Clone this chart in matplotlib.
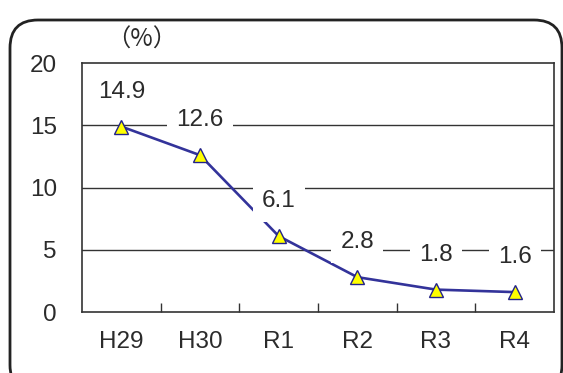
import matplotlib
matplotlib.use("Agg")
from matplotlib import pyplot as plt
from matplotlib.patches import FancyBboxPatch
from matplotlib.transforms import IdentityTransform

plt.rcParams['font.family'] = ['Liberation Sans', 'Noto Sans CJK JP', 'DejaVu Sans']

# yearly rate (%)
years = ["H29", "H30", "R1", "R2", "R3", "R4"]
rates = [14.9, 12.6, 6.1, 2.8, 1.8, 1.6]
y_ticks = [0, 5, 10, 15, 20]

FS = 17.5
TXT = "#2b2b2b"

fig = plt.figure(figsize=(5.63, 3.73), dpi=100)
ax = fig.add_axes([0.1456, 0.1635, 0.8384, 0.6675])

x = list(range(len(years)))
ax.plot(x, rates, color="#33339a", linewidth=1.9, zorder=3)
ax.plot(x, rates, linestyle="none", marker="^", markersize=10,
        markerfacecolor="#ffff00", markeredgecolor="#22228a",
        markeredgewidth=1.0, zorder=4)

for xi, v in zip(x, rates):
    ax.annotate(f"{v}", (xi, v), xytext=(0, 25), textcoords="offset points",
                ha="center", va="center", fontsize=FS, color=TXT,
                bbox=dict(boxstyle="square,pad=0.38", fc="white", ec="none"),
                zorder=5)

ax.set_xlim(-0.5, len(years) - 0.5)
ax.set_ylim(0, 20)
ax.set_yticks(y_ticks)
ax.set_yticklabels([str(t) for t in y_ticks], fontsize=FS, color=TXT)
ax.tick_params(axis="y", length=0, pad=18)

ax.set_xticks(x)
ax.set_xticklabels(years, fontsize=FS, color=TXT)
ax.tick_params(axis="x", which="major", length=0, pad=14)
ax.set_xticks([i + 0.5 for i in range(len(years) - 1)], minor=True)
ax.tick_params(axis="x", which="minor", direction="in", length=6.5,
               width=1.0, color="#333333")

for g in (5, 10, 15):
    ax.axhline(g, color="#333333", linewidth=1.0, zorder=1)

for s in ax.spines.values():
    s.set_color("#333333")
    s.set_linewidth(1.2)

fig.text(0.252, 0.893, "（%）", ha="center", va="center", fontsize=FS,
         color=TXT, family=['Noto Sans CJK JP', 'DejaVu Sans'])

# rounded outer frame, in pixel coordinates
frame = FancyBboxPatch((10, -20), 552, 373,
                       boxstyle="round,pad=0,rounding_size=28",
                       transform=IdentityTransform(), fc="none",
                       ec="#222222", linewidth=2.0, zorder=10)
fig.patches.append(frame)

fig.savefig("out.png", dpi=100)
